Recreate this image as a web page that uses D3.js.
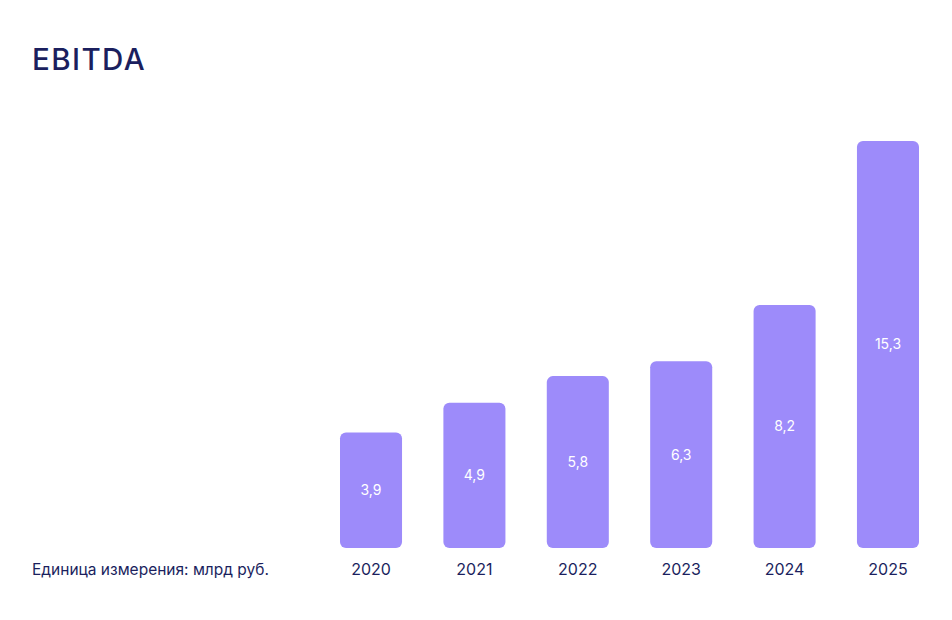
<!DOCTYPE html>
<html><head><meta charset="utf-8">
<script src="https://cdn.jsdelivr.net/npm/d3@7"></script>
<style>
html,body{margin:0;padding:0;background:#fff;}
svg{display:block;font-family:Inter,"Noto Sans",sans-serif;}
</style></head>
<body><svg id="c" width="952" height="620"></svg>
<script>
const years = ["2020","2021","2022","2023","2024","2025"];
const values = [3.9, 4.9, 5.8, 6.3, 8.2, 15.3];
const labels = ["3,9","4,9","5,8","6,3","8,2","15,3"];
const title = "EBITDA";
const unit = "Единица измерения: млрд руб.";

const svg = d3.select("#c");
const navy = "#1b1f5e";
const barColor = "#9d8bfa";

const x = d3.scaleBand().domain(years).range([340, 919]).paddingInner(0.4).paddingOuter(0);
// the tallest bar is drawn shortened, so the scale is piecewise
const y = d3.scaleLinear().domain([0, 8.2, 15.3]).range([548, 305, 141]);

svg.append("text").attr("x", 32).attr("y", 70).attr("fill", navy)
  .attr("font-size", 29.5).attr("font-weight", 500).attr("letter-spacing", 1.4).text(title);

const g = svg.append("g");
g.selectAll("rect").data(values).join("rect")
  .attr("x", (d,i) => x(years[i]))
  .attr("y", d => y(d))
  .attr("width", x.bandwidth())
  .attr("height", d => y(0) - y(d))
  .attr("rx", 6).attr("ry", 6)
  .attr("fill", barColor);

g.selectAll("text.v").data(values).join("text").attr("class","v")
  .attr("x", (d,i) => x(years[i]) + x.bandwidth()/2)
  .attr("y", d => (y(d) + y(0))/2)
  .attr("dy", "0.35em")
  .attr("text-anchor", "middle")
  .attr("fill", "#fff").attr("font-size", 14)
  .text((d,i) => labels[i]);

const xAxis = d3.axisBottom(x).tickSize(0).tickPadding(0);
const ax = svg.append("g").attr("transform", "translate(0,575)").call(xAxis);
ax.select(".domain").remove();
ax.selectAll("text").attr("fill", navy).attr("font-size", 16)
  .attr("dy", 0).attr("font-family", 'Inter,"Noto Sans",sans-serif');

svg.append("text").attr("x", 32).attr("y", 575).attr("fill", navy)
  .attr("font-size", 15.5).text(unit);
</script></body></html>
